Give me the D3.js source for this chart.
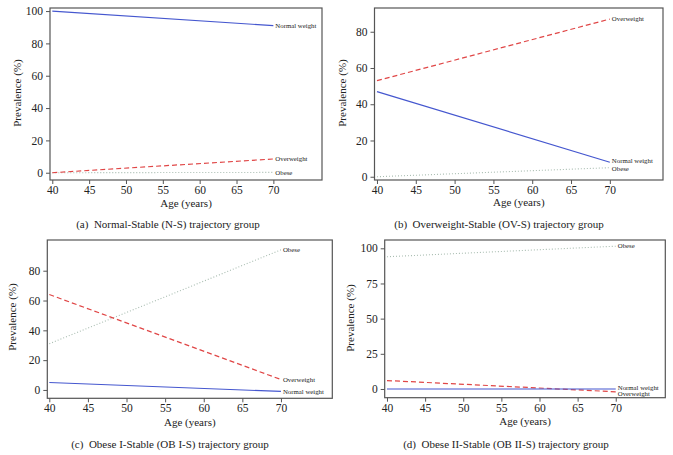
<!DOCTYPE html>
<html>
<head>
<meta charset="utf-8">
<script src="https://cdn.jsdelivr.net/npm/d3@7/dist/d3.min.js"></script>
<style>
  html, body { margin: 0; padding: 0; background: #fff; }
  svg { display: block; font-family: "Liberation Serif", "DejaVu Serif", serif; }
</style>
</head>
<body>
<svg id="chart" width="673" height="455"></svg>
<script>
// ---- Data ----
const ages = [40, 70];
const xTicks = [40, 45, 50, 55, 60, 65, 70];

const panelCaptions = [
  "(a)  Normal-Stable (N-S) trajectory group",
  "(b)  Overweight-Stable (OV-S) trajectory group",
  "(c)  Obese I-Stable (OB I-S) trajectory group",
  "(d)  Obese II-Stable (OB II-S) trajectory group"
];
const yTicksA = [0, 20, 40, 60, 80, 100];
const yTicksB = [0, 20, 40, 60, 80];
const yTicksC = [0, 20, 40, 60, 80];
const yTicksD = [0, 25, 50, 75, 100];

// prevalence (%) at ages 40 and 70
const normalA = [100, 91];
const overA   = [0, 8.5];
const obeseA  = [0, 0.2];

const normalB = [47, 8];
const overB   = [53, 87];
const obeseB  = [0, 5];

const normalC = [5, -1];
const overC   = [64, 7];
const obeseC  = [31, 94];

const normalD = [0, 0];
const overD   = [6, -2];
const obeseD  = [94, 101.5];

const seriesNames = ["Normal weight", "Overweight", "Obese"];

// ---- Layout ----
const panels = [
  { frame: [50, 8, 322, 180],   xd: [39.69, 76.6],  yd: [-4.5, 101.9], yTicks: yTicksA,
    data: [normalA, overA, obeseA], ytx: 17, yty: 93, titleY: 207, capX: 168, capY: 228, labDy: [0, 0, 0] },
  { frame: [374.5, 8, 663, 180], xd: [39.68, 76.85], yd: [-1.8, 93.1], yTicks: yTicksB,
    data: [normalB, overB, obeseB], ytx: 342, yty: 93, titleY: 206, capX: 499, capY: 228, labDy: [-1.2, 0, 1.2] },
  { frame: [47.3, 240, 332.3, 398.3], xd: [39.74, 76.65], yd: [-5.6, 100.6], yTicks: yTicksC,
    data: [normalC, overC, obeseC], ytx: 12, yty: 317, titleY: 426, capX: 170, capY: 448, labDy: [0, 0, 0] },
  { frame: [384.7, 240, 665.3, 397.7], xd: [39.7, 76.5], yd: [-6.2, 105.9], yTicks: yTicksD,
    data: [normalD, overD, obeseD], ytx: 350, yty: 318, titleY: 425, capX: 506, capY: 448, labDy: [-1.6, 1.6, 0] }
];

const styles = [
  { stroke: "#4557cf", width: 1.2, dash: null },
  { stroke: "#e04646", width: 1.2, dash: "5,3" },
  { stroke: "#a8bcb0", width: 1.1, dash: "1,2" }
];

const svg = d3.select("#chart");

panels.forEach((p, i) => {
  const [l, t, r, b] = p.frame;
  const x = d3.scaleLinear().domain(p.xd).range([l, r]);
  const y = d3.scaleLinear().domain(p.yd).range([b, t]);
  const g = svg.append("g");

  // frame
  g.append("rect").attr("x", l).attr("y", t).attr("width", r - l).attr("height", b - t)
    .attr("fill", "none").attr("stroke", "#555").attr("stroke-width", 1.2);

  // x axis
  const xa = g.append("g").attr("transform", `translate(0,${b})`)
    .call(d3.axisBottom(x).tickValues(xTicks).tickSize(4).tickPadding(2).tickFormat(d3.format("d")));
  xa.select(".domain").remove();
  xa.selectAll("line").attr("stroke", "#555");
  xa.selectAll("text").attr("font-size", 11.5).attr("fill", "#222")
    .attr("font-family", "Liberation Serif, serif");

  // y axis
  const ya = g.append("g").attr("transform", `translate(${l},0)`)
    .call(d3.axisLeft(y).tickValues(p.yTicks).tickSize(4).tickPadding(3).tickFormat(d3.format("d")));
  ya.select(".domain").remove();
  ya.selectAll("line").attr("stroke", "#555");
  ya.selectAll("text").attr("font-size", 11.5).attr("fill", "#222")
    .attr("font-family", "Liberation Serif, serif");

  // lines
  const line = d3.line().x((d, k) => x(ages[k])).y(d => y(d));
  [2, 1, 0].forEach(s => {
    const st = styles[s];
    const path = g.append("path").datum(p.data[s]).attr("d", line)
      .attr("fill", "none").attr("stroke", st.stroke).attr("stroke-width", st.width);
    if (st.dash) path.attr("stroke-dasharray", st.dash);
  });

  // series labels
  p.data.forEach((vals, s) => {
    g.append("text").attr("x", x(ages[1]) + 2).attr("y", y(vals[1]) + p.labDy[s])
      .attr("dy", "0.33em").attr("font-size", 6.8).attr("fill", "#222").text(seriesNames[s]);
  });

  // axis titles
  g.append("text").attr("x", (l + r) / 2).attr("y", p.titleY).attr("text-anchor", "middle")
    .attr("font-size", 11).attr("fill", "#222").text("Age (years)");
  g.append("text").attr("transform", `translate(${p.ytx},${p.yty}) rotate(-90)`)
    .attr("text-anchor", "middle").attr("dy", "0.35em")
    .attr("font-size", 11).attr("fill", "#222").text("Prevalence (%)");

  // caption
  g.append("text").attr("x", p.capX).attr("y", p.capY).attr("text-anchor", "middle")
    .attr("font-size", 11).attr("fill", "#222").attr("xml:space", "preserve")
    .style("white-space", "pre").text(panelCaptions[i]);
});
</script>
</body>
</html>
